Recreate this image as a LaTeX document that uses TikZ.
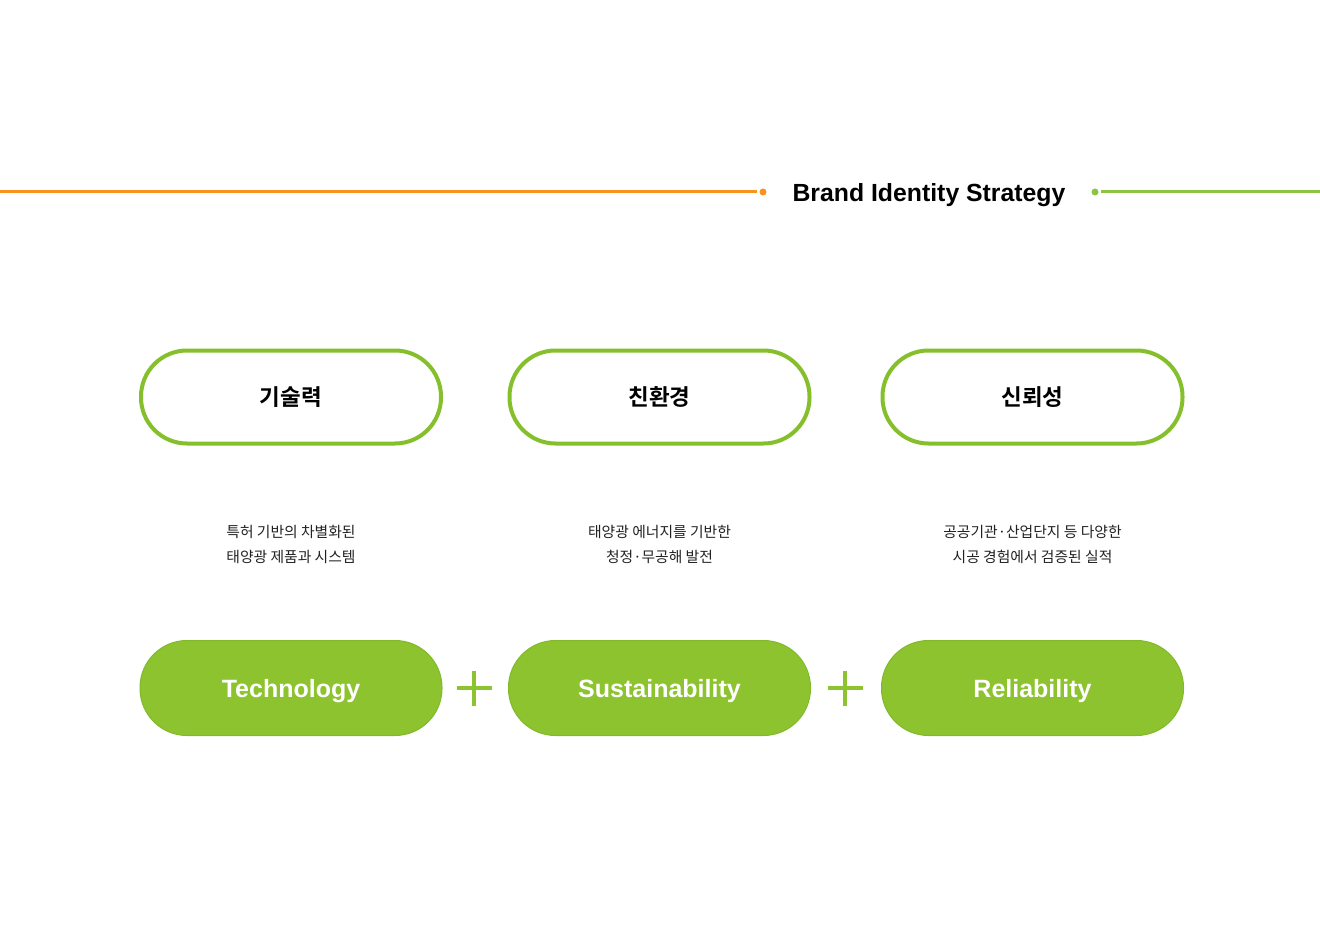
\documentclass[tikz,border=0pt]{standalone}
\usepackage{fontspec}
\setmainfont{Liberation Sans}
\newfontfamily\kr{Noto Sans CJK KR}
\newfontfamily\krb{Noto Sans CJK KR Bold}
\definecolor{orangeL}{HTML}{F7931E}
\definecolor{greenL}{HTML}{8CC63F}
\definecolor{outG}{HTML}{86BF2C}
\definecolor{pillG}{HTML}{8DC32F}
\definecolor{pillB}{HTML}{80BA2A}
\definecolor{txt}{HTML}{222222}
\begin{document}
\begin{tikzpicture}[x=1pt,y=-1pt,
  outpill/.style={draw=outG,line width=4pt,fill=white,rounded corners=46pt,minimum width=300pt,minimum height=93pt,inner sep=0pt,font=\krb\fontsize{22.5}{26}\selectfont,text=black},
  fillpill/.style={draw=pillB,line width=1pt,fill=pillG,rounded corners=47pt,minimum width=302pt,minimum height=95pt,inner sep=0pt,font=\bfseries\fontsize{25}{28}\selectfont,text=white,text height=18pt,text depth=0pt},
  desc/.style={font=\kr\fontsize{14.8}{25}\selectfont,text=txt,align=center},
  plus/.style={draw=pillG,line width=3.5pt}
]
\useasboundingbox (0,0) rectangle (1320,933);
\fill[white] (0,0) rectangle (1320,933);
% header
\coordinate (ol) at (0,192);
\coordinate (or) at (757,192);
\coordinate (gl) at (1101,192);
\coordinate (gr) at (1320,192);
\draw[orangeL,line width=3pt] (ol) -- (or);
\fill[orangeL] (763,192) circle (3.5);
\draw[greenL,line width=3pt] (gl) -- (gr);
\fill[greenL] (1095,192) circle (3.5);
\node[font=\bfseries\fontsize{24.8}{28}\selectfont,text=black,text height=17.8pt,text depth=0pt,inner sep=0pt] (title) at (929,192.5) {Brand Identity Strategy};
% outline pills
\node[outpill] (p1) at (291,397) {기술력};
\node[outpill] (p2) at (659.5,397) {친환경};
\node[outpill] (p3) at (1032.5,397) {신뢰성};
% descriptions
\node[desc] (d1) at (291,544) {특허 기반의 차별화된\\태양광 제품과 시스템};
\node[desc] (d2) at (659.5,544) {태양광 에너지를 기반한\\청정·무공해 발전};
\node[desc] (d3) at (1032.5,544) {공공기관·산업단지 등 다양한\\시공 경험에서 검증된 실적};
% filled pills
\node[fillpill] (f1) at (291,688) {Technology};
\node[fillpill] (f2) at (659.5,688) {Sustainability};
\node[fillpill] (f3) at (1032.5,688) {Reliability};
% plus signs
\draw[plus] (456.5,688) -- (491.5,688) (474,670.5) -- (474,705.5);
\draw[plus] (827.5,688) -- (862.5,688) (845,670.5) -- (845,705.5);
\end{tikzpicture}
\end{document}
